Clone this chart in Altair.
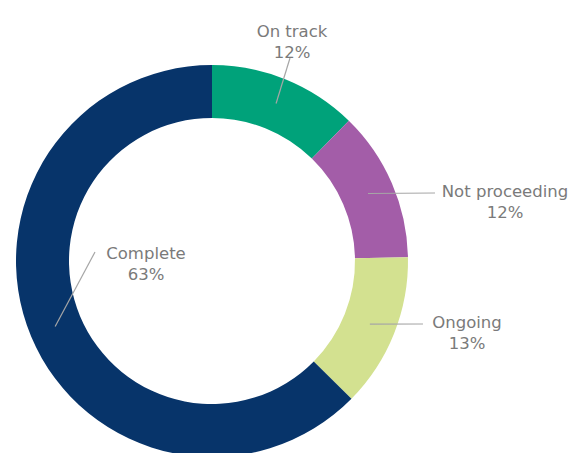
import math
import altair as alt
import pandas as pd

# ---- data ----
categories = ["On track", "Not proceeding", "Ongoing", "Complete"]
values = [12.3, 12.4, 12.7, 62.6]          # slice sizes
pct_labels = ["12%", "12%", "13%", "63%"]  # printed labels
colors = ["#00A27A", "#A35DA8", "#D3E190", "#07346A"]

# ---- layout (pixels) ----
W, H = 582, 453
CX, CY = 212, 261
R_OUT, R_IN = 196, 143
LEADER_R = 170
# label block centres and leader end points (layout, per category)
label_xy = [(292, 32), (505, 192), (467, 323), (146, 254)]
leader_end = [(290, 58), (435, 193), (423, 324), (95, 252)]

total = sum(values)
rows = []
cum = 0.0
for i, (c, v) in enumerate(zip(categories, values)):
    mid = (cum + v / 2) / total * 2 * math.pi
    cum += v
    sx = CX + LEADER_R * math.sin(mid)
    sy = CY - LEADER_R * math.cos(mid)
    rows.append({
        "cat": c, "val": v, "idx": i,
        "label": f"{c}\n{pct_labels[i]}",
        "lx": label_xy[i][0], "ly": label_xy[i][1],
        "sx": sx, "sy": sy,
        "ex": leader_end[i][0], "ey": leader_end[i][1],
    })
df = pd.DataFrame(rows)

xs = alt.Scale(domain=[0, W], range=[0, W])
ys = alt.Scale(domain=[0, H], range=[0, H])

arcs = alt.Chart(df).mark_arc(
    innerRadius=R_IN, outerRadius=R_OUT, strokeWidth=0
).encode(
    theta=alt.Theta("val:Q", stack=True),
    order=alt.Order("idx:Q"),
    color=alt.Color("cat:N", scale=alt.Scale(domain=categories, range=colors), legend=None),
    x=alt.value(CX),
    y=alt.value(CY),
)

leaders = alt.Chart(df).mark_rule(color="#a6a6a6", strokeWidth=1.2).encode(
    x=alt.X("sx:Q", scale=xs, axis=None),
    y=alt.Y("sy:Q", scale=ys, axis=None),
    x2="ex:Q",
    y2="ey:Q",
)

labels = alt.Chart(df).mark_text(
    lineBreak="\n", align="center", baseline="middle",
    font="DejaVu Sans", fontSize=16.5, color="#7a7a7a", lineHeight=21,
).encode(
    x=alt.X("lx:Q", scale=xs, axis=None),
    y=alt.Y("ly:Q", scale=ys, axis=None),
    text="label:N",
)

chart = alt.layer(arcs, leaders, labels).properties(
    width=W, height=H, padding=0, autosize=alt.AutoSizeParams(type="none"),
    background="white",
).configure_view(stroke=None)

chart.save("out.html", embed_options={"renderer": "svg", "actions": False})
